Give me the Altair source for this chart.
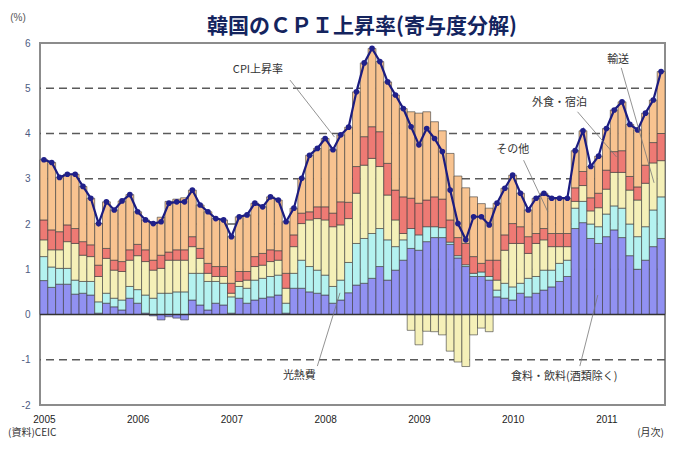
import json
import altair as alt
import pandas as pd

# ---------------- data ----------------
years = ["2005", "2006", "2007", "2008", "2009", "2010", "2011"]
n_months = 80  # 2005-01 .. 2011-08

food = [0.75, 0.60, 0.67, 0.67, 0.45, 0.47, 0.43, 0.03, 0.25, 0.17, 0.10, 0.36,
        0.25, 0.03, -0.03, -0.12, -0.05, -0.08, -0.12, 0.32, 0.21, 0.10, 0.25, 0.21,
        0.03, 0.36, 0.25, 0.32, 0.36, 0.39, 0.43, 0.03, 0.58, 0.58, 0.50, 0.47,
        0.43, 0.25, 0.32, 0.48, 0.65, 0.69, 0.80, 1.06, 0.76, 0.98, 1.20, 1.46,
        1.42, 1.61, 1.70, 1.70, 1.55, 1.25, 1.06, 0.84, 0.84, 0.76, 0.39, 0.36,
        0.32, 0.47, 0.39, 0.47, 0.54, 0.61, 0.73, 0.84, 1.90, 2.03, 1.68, 1.57,
        1.72, 1.87, 1.70, 1.30, 1.00, 1.20, 1.50, 1.68]

utilities = [0.53, 0.45, 0.35, 0.35, 0.31, 0.26, 0.30, 0.25, 0.22, 0.19, 0.22, 0.26,
             0.30, 0.40, 0.36, 0.47, 0.47, 0.50, 0.50, 0.59, 0.70, 0.63, 0.48, 0.48,
             0.36, 0.26, 0.33, 0.44, 0.44, 0.45, 0.44, 0.22, 0.33, 0.62, 0.56, 0.51,
             0.44, 0.37, 0.44, 0.67, 0.92, 0.99, 0.99, 0.84, 0.89, 0.52, 0.45, 0.44,
             0.34, 0.33, 0.24, 0.22, 0.05, 0.05, 0.04, 0.07, 0.10, 0.08, 0.15, 0.33,
             0.29, 0.22, 0.41, 0.37, 0.44, 0.37, 0.40, 0.36, 0.45, 0.47, 0.32, 0.37,
             0.50, 0.53, 0.65, 0.70, 0.72, 0.74, 0.81, 0.92]

transport = [0.37, 0.38, 0.41, 0.59, 0.81, 0.58, 0.55, 0.56, 0.77, 0.62, 0.63, 0.58,
             0.75, 0.74, 0.62, 0.55, 0.73, 0.70, 0.70, 0.59, 0.33, 0.18, 0.11, 0.15,
             0.08, 0.11, 0.18, 0.30, 0.29, 0.33, 0.33, 0.33, 0.59, 0.81, 1.03, 1.14,
             1.22, 1.32, 1.22, 0.97, 1.11, 1.62, 1.66, 1.37, 0.99, 0.59, 0.14, -0.35,
             -0.67, -0.37, -0.38, -0.45, -0.81, -1.05, -1.15, -0.45, -0.30, -0.38, 0.22, 0.73,
             0.96, 0.88, 0.55, 0.73, 0.67, 0.52, 0.37, 0.30, 0.15, 0.35, 0.29, 0.42,
             0.55, 0.74, 0.79, 0.75, 0.81, 0.96, 1.04, 0.80]

dining = [0.44, 0.44, 0.40, 0.37, 0.33, 0.30, 0.26, 0.25, 0.22, 0.22, 0.22, 0.23,
          0.25, 0.26, 0.22, 0.29, 0.18, 0.23, 0.23, 0.22, 0.22, 0.22, 0.22, 0.22,
          0.22, 0.22, 0.19, 0.22, 0.26, 0.26, 0.21, 0.33, 0.26, 0.23, 0.18, 0.26,
          0.29, 0.30, 0.51, 0.36, 0.59, 0.63, 0.70, 0.77, 0.70, 0.66, 0.81, 0.67,
          0.70, 0.59, 0.66, 0.63, 0.49, 0.40, 0.47, 0.37, 0.19, 0.36, 0.44, 0.34,
          0.44, 0.37, 0.37, 0.22, 0.25, 0.29, 0.29, 0.29, 0.30, 0.31, 0.29, 0.32,
          0.42, 0.46, 0.48, 0.30, 0.29, 0.40, 0.45, 0.60]

other = [1.33, 1.49, 1.20, 1.12, 1.20, 1.22, 1.03, 0.92, 1.03, 1.11, 1.34, 1.22,
         0.72, 0.66, 0.81, 0.84, 1.12, 1.12, 1.15, 1.03, 0.96, 1.14, 1.06, 1.03,
         1.03, 1.21, 1.25, 1.18, 1.03, 1.17, 1.12, 1.14, 0.59, 0.77, 1.25, 1.29,
         1.51, 1.40, 1.48, 1.66, 1.65, 1.63, 1.73, 1.55, 1.80, 2.10, 1.95, 1.91,
         1.99, 1.95, 1.66, 1.51, 1.47, 1.36, 1.23, 1.32, 1.32, 1.15, 1.26, 1.03,
         1.07, 0.74, 0.59, 0.78, 0.78, 0.78, 0.78, 0.78, 0.82, 0.90, 0.69, 0.82,
         0.92, 0.92, 1.08, 1.15, 1.26, 1.15, 0.94, 1.37]

cpi = [3.42, 3.36, 3.03, 3.10, 3.10, 2.83, 2.57, 2.01, 2.49, 2.31, 2.51, 2.65,
       2.27, 2.09, 2.01, 2.05, 2.46, 2.49, 2.49, 2.75, 2.42, 2.27, 2.12, 2.09,
       1.72, 2.16, 2.20, 2.46, 2.38, 2.60, 2.53, 2.05, 2.35, 3.01, 3.52, 3.67,
       3.89, 3.64, 3.97, 4.14, 4.92, 5.56, 5.88, 5.59, 5.14, 4.85, 4.55, 4.15,
       3.75, 4.11, 3.89, 3.60, 2.75, 2.01, 1.65, 2.16, 2.16, 1.98, 2.46, 2.79,
       3.08, 2.68, 2.31, 2.57, 2.68, 2.57, 2.57, 2.57, 3.62, 4.06, 3.27, 3.50,
       4.11, 4.52, 4.70, 4.20, 4.08, 4.45, 4.74, 5.37]

series_names = ["食料・飲料(酒類除く)", "光熱費", "輸送", "外食・宿泊", "その他"]
series_colors = ["#9191f2", "#b4f2f0", "#f5f0b8", "#ee7a74", "#f8c390"]

ann_text = ["CPI上昇率", "光熱費", "その他", "外食・宿泊", "輸送", "食料・飲料(酒類除く)"]
ann_m = [27.9, 33.2, 60.5, 66.5, 74.0, 67.1]
ann_v = [5.40, -1.36, 3.64, 4.67, 5.62, -1.38]
lead_m1 = [32.0, 35.5, 61.9, 68.8, 74.4, 69.1]
lead_v1 = [5.18, -1.14, 3.41, 4.48, 5.45, -1.14]
lead_m2 = [37.7, 38.4, 65.0, 73.8, 78.6, 71.4]
lead_v2 = [3.92, 0.48, 2.27, 3.48, 2.91, 0.43]

grid_levels = [-1, 1, 2, 3, 4, 5]
y_ticks = [-2, -1, 0, 1, 2, 3, 4, 5, 6]

title_text = "韓国のＣＰＩ上昇率(寄与度分解)"
unit_text = "(%)"
source_text = "(資料)CEIC"
freq_text = "(月次)"

# ---------------- tables ----------------
rows = []
for i in range(n_months):
    for k, (name, vals) in enumerate(zip(series_names, [food, utilities, transport, dining, other])):
        rows.append({"m": i, "series": name, "order": k, "v": vals[i]})
bar_df = pd.DataFrame(rows)
line_df = pd.DataFrame({"m": list(range(n_months)), "cpi": cpi})
ann_df = pd.DataFrame({"t": ann_text, "m": ann_m, "v": ann_v})
lead_df = pd.DataFrame({"m1": lead_m1, "v1": lead_v1, "m2": lead_m2, "v2": lead_v2})
grid_df = pd.DataFrame({"g": grid_levels})
zero_df = pd.DataFrame({"z": [0]})
one = pd.DataFrame({"a": [0]})

JP = "Noto Sans CJK JP"
x_scale = alt.Scale(domain=[0, n_months], nice=False, zero=False)
y_scale = alt.Scale(domain=[-2, 6], nice=False)
label_expr = json.dumps(years) + "[floor(datum.value / 12)]"

x_axis = alt.Axis(values=[12 * i + 0.5 for i in range(len(years))], labelExpr=label_expr,
                  title=None, ticks=False, domain=False, grid=False, labelPadding=9,
                  labelFontSize=10, labelColor="#222222", labelFont="Liberation Sans")
y_axis = alt.Axis(values=y_ticks, title=None, ticks=False, domain=False, grid=False,
                  labelPadding=10, labelFontSize=10, labelColor="#4d5b82",
                  labelFont="Liberation Sans", labelExpr="'' + datum.value")

bars = alt.Chart(bar_df).transform_stack(
    stack="v", groupby=["m"], as_=["y0", "y1"], sort=[alt.SortField("order", order="ascending")]
).transform_calculate(m2="datum.m + 1").mark_bar(stroke="#3a3a3a", strokeWidth=0.6).encode(
    x=alt.X("m:Q", scale=x_scale, axis=x_axis),
    x2="m2:Q",
    y=alt.Y("y0:Q", scale=y_scale, axis=y_axis),
    y2="y1:Q",
    color=alt.Color("series:N", scale=alt.Scale(domain=series_names, range=series_colors), legend=None),
)

grid = alt.Chart(grid_df).mark_rule(color="#5a5a5a", strokeDash=[8, 5], strokeWidth=1.3).encode(
    y=alt.Y("g:Q", scale=y_scale, axis=y_axis)
)

zero = alt.Chart(zero_df).mark_rule(color="#333333", strokeWidth=1.5).encode(
    y=alt.Y("z:Q", scale=y_scale, axis=y_axis)
)

line = alt.Chart(line_df).transform_calculate(mc="datum.m + 0.5").mark_line(
    color="#1c1c80", strokeWidth=2.2,
    point=alt.OverlayMarkDef(filled=True, color="#20208a", size=32)
).encode(
    x=alt.X("mc:Q", scale=x_scale, axis=x_axis),
    y=alt.Y("cpi:Q", scale=y_scale, axis=y_axis),
)

leaders = alt.Chart(lead_df).mark_rule(color="#777777", strokeWidth=0.8).encode(
    x=alt.X("m1:Q", scale=x_scale, axis=x_axis), x2="m2:Q",
    y=alt.Y("v1:Q", scale=y_scale, axis=y_axis), y2="v2:Q",
)

labels = alt.Chart(ann_df).mark_text(font=JP, fontSize=11, color="#333333").encode(
    x=alt.X("m:Q", scale=x_scale, axis=x_axis),
    y=alt.Y("v:Q", scale=y_scale, axis=y_axis),
    text="t:N",
)

title = alt.Chart(one).mark_text(font=JP, fontSize=21, fontWeight="bold", color="#14245e",
                                 align="center", baseline="middle").encode(
    x=alt.value(322), y=alt.value(-16), text=alt.value(title_text))
unit = alt.Chart(one).mark_text(font="Liberation Sans", fontSize=10, color="#555555",
                                align="center", baseline="middle").encode(
    x=alt.value(-22), y=alt.value(-25), text=alt.value(unit_text))
source = alt.Chart(one).mark_text(font=JP, fontSize=10, color="#333333",
                                  align="left", baseline="middle").encode(
    x=alt.value(-32), y=alt.value(390), text=alt.value(source_text))
freq = alt.Chart(one).mark_text(font=JP, fontSize=10, color="#333333",
                                align="right", baseline="middle").encode(
    x=alt.value(624), y=alt.value(390), text=alt.value(freq_text))

chart = alt.layer(grid, bars, zero, line, leaders, labels, title, unit, source, freq).properties(
    width=625, height=362,
    autosize=alt.AutoSizeParams(type="none"),
    padding={"left": 32, "top": 35, "right": 1, "bottom": 36},
    background="white",
).configure_view(stroke="#8c8c8c", strokeWidth=2)

chart.save("out.html", embed_options={"renderer": "svg", "actions": False})
